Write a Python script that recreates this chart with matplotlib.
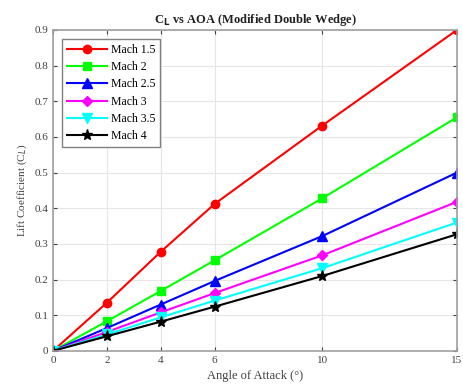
import matplotlib.pyplot as plt

plt.rcParams['font.family'] = ['Liberation Serif', 'DejaVu Serif']

# angle of attack in degrees
aoa = [0, 2, 4, 6, 10, 15]

cl_m15 = [0, 0.135, 0.278, 0.412, 0.632, 0.900]
cl_m2 = [0, 0.083, 0.168, 0.254, 0.428, 0.655]
cl_m25 = [0, 0.064, 0.130, 0.196, 0.322, 0.500]
cl_m3 = [0, 0.053, 0.108, 0.162, 0.268, 0.418]
cl_m35 = [0, 0.046, 0.094, 0.141, 0.232, 0.360]
cl_m4 = [0, 0.041, 0.082, 0.124, 0.210, 0.327]

labels = ['Mach 1.5', 'Mach 2', 'Mach 2.5', 'Mach 3', 'Mach 3.5', 'Mach 4']
series = [cl_m15, cl_m2, cl_m25, cl_m3, cl_m35, cl_m4]
colors = ['#ff0000', '#00ff00', '#0000ff', '#ff00ff', '#00ffff', '#000000']
markers = ['o', 's', '^', 'D', 'v', '*']
msizes = [6, 6, 7, 5, 7, 8]

fig = plt.figure(figsize=(4.63, 3.89), dpi=100)
ax = fig.add_axes([0.1145, 0.098, 0.8725, 0.825])

for y, lab, c, m, ms in zip(series, labels, colors, markers, msizes):
    ax.plot(aoa, y, color=c, marker=m, markersize=ms, linewidth=1.5, label=lab)

ax.set_xlim(0, 15)
ax.set_ylim(0, 0.9)
ax.set_xticks(aoa)
ax.set_yticks([i / 10 for i in range(10)])
ax.set_yticklabels(['0'] + ['%.1f' % (i / 10) for i in range(1, 10)])
ax.grid(True, color='#e6e6e6', linewidth=0.8)
ax.set_axisbelow(True)
ax.tick_params(direction='in', top=True, right=True, labelsize=8, colors='#404040', length=3)
for s in ax.spines.values():
    s.set_color('#a0a0a0')
    s.set_linewidth(1.2)

ax.set_xlabel('Angle of Attack (°)', fontsize=9, color='#404040')
ax.set_ylabel('Lift Coefficient (C$_L$)', fontsize=8, color='#404040')
ax.set_title('C$_\\mathbf{L}$ vs AOA (Modified Double Wedge)', fontsize=9, fontweight='bold', color='#222222', pad=5)

leg = ax.legend(loc='upper left', fontsize=8.5, handlelength=3.4, labelspacing=0.45,
                handletextpad=0.3, borderpad=0.4, fancybox=False, framealpha=1,
                edgecolor='#808080', bbox_to_anchor=(0.008, 0.99))
leg.get_frame().set_linewidth(1.0)

fig.savefig('out.png', dpi=100)
